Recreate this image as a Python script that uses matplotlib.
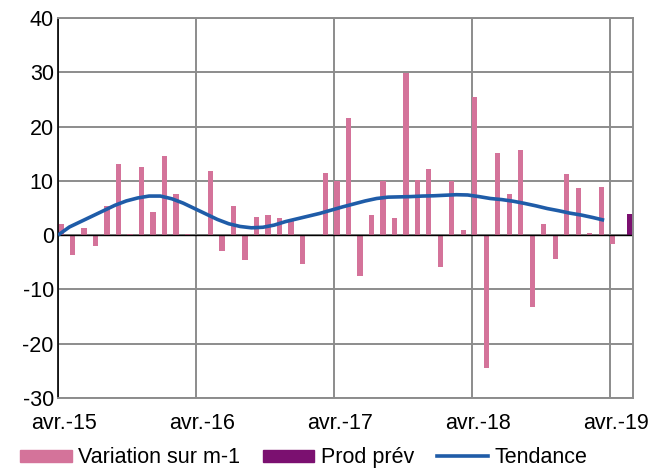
import matplotlib
matplotlib.use('Agg')
import matplotlib.pyplot as plt
from matplotlib.patches import Patch
from matplotlib.lines import Line2D
import numpy as np

plt.rcParams['font.family'] = ['Liberation Sans', 'DejaVu Sans']
plt.rcParams['axes.unicode_minus'] = False

# monthly categories, avr.-15 .. mai-19
months = ['avr.-15', 'mai-15', 'juin-15', 'juil.-15', 'août-15', 'sept.-15', 'oct.-15', 'nov.-15', 'déc.-15',
          'janv.-16', 'févr.-16', 'mars-16',
          'avr.-16', 'mai-16', 'juin-16', 'juil.-16', 'août-16', 'sept.-16', 'oct.-16', 'nov.-16', 'déc.-16',
          'janv.-17', 'févr.-17', 'mars-17',
          'avr.-17', 'mai-17', 'juin-17', 'juil.-17', 'août-17', 'sept.-17', 'oct.-17', 'nov.-17', 'déc.-17',
          'janv.-18', 'févr.-18', 'mars-18',
          'avr.-18', 'mai-18', 'juin-18', 'juil.-18', 'août-18', 'sept.-18', 'oct.-18', 'nov.-18', 'déc.-18',
          'janv.-19', 'févr.-19', 'mars-19',
          'avr.-19', 'mai-19']

variation = [2.0, -3.6, 1.4, -2.0, 5.3, 13.1, 0.2, 12.5, 4.2, 14.5, 7.6, 0.2,
             0.0, 11.9, -2.9, 5.3, -4.6, 3.4, 3.8, 3.1, 2.8, -5.4, 0.0, 11.5,
             10.0, 21.5, -7.5, 3.8, 9.9, 3.1, 29.9, 10.1, 12.1, -5.8, 9.9, 0.9,
             25.4, -24.5, 15.2, 7.5, 15.6, -13.2, 2.1, -4.4, 11.2, 8.7, 0.4, 8.9,
             -1.6, np.nan]

prod_prev = [np.nan] * 49 + [3.9]

tendance = [0.0, 1.5, 2.5, 3.5, 4.5, 5.5, 6.3, 6.85, 7.2, 7.2, 6.7, 5.9,
            4.9, 3.9, 2.9, 2.1, 1.6, 1.35, 1.45, 1.85, 2.5, 3.0, 3.5, 4.0,
            4.6, 5.2, 5.75, 6.3, 6.75, 7.0, 7.05, 7.1, 7.2, 7.25, 7.35, 7.45,
            7.4, 7.1, 6.75, 6.55, 6.25, 5.85, 5.4, 4.9, 4.5, 4.05, 3.7, 3.25,
            2.75, np.nan]

pink = '#d4739a'
purple = '#7b1070'
blue = '#1f5ca8'
grid_col = '#8c8c8c'

fig = plt.figure(figsize=(6.49, 4.68), dpi=100)
ax = fig.add_axes([0.0894, 0.1496, 0.8856, 0.8119])

x = np.arange(len(months))
ax.bar(x + 0.02, variation, width=0.47, align='edge', color=pink, zorder=2)
ax.bar(x + 0.52, prod_prev, width=0.47, align='edge', color=purple, zorder=2)
# trend points spread from the axis start to the centre of the last month
line_x = np.linspace(0, len(months) - 1.5, len(months))
ax.plot(line_x, tendance, color=blue, lw=2.6, zorder=3, solid_capstyle='butt')

ax.set_xlim(0, len(months))
ax.set_ylim(-30, 40)
ax.set_yticks(range(-30, 41, 10))
ax.axhline(0, color='black', lw=1, zorder=2.5)

year_pos = [i for i, m in enumerate(months) if m.startswith('avr.')]
ax.set_xticks(year_pos)
ax.set_xticklabels([])
ax.set_xticks([p + 0.5 for p in year_pos], minor=True)
ax.set_xticklabels([months[p] for p in year_pos], minor=True)
ax.tick_params(axis='x', which='both', length=0, labelsize=15.5, pad=11)
ax.tick_params(axis='y', length=0, labelsize=15.5, pad=3)

ax.grid(True, which='major', color=grid_col, lw=1.4, zorder=0)
for s in ['top', 'right', 'bottom']:
    ax.spines[s].set_color(grid_col)
    ax.spines[s].set_linewidth(1.4)
ax.spines['left'].set_color('black')
ax.spines['left'].set_linewidth(1.2)

handles = [Patch(color=pink), Patch(color=purple), Line2D([], [], color=blue, lw=2.6)]
fig.legend(handles, ['Variation sur m-1', 'Prod prév', 'Tendance'], loc='lower center',
           bbox_to_anchor=(0.468, -0.042), ncol=3, frameon=False, fontsize=15.5,
           handlelength=2.4, handleheight=0.5, handletextpad=0.3, columnspacing=1.05)

fig.savefig('out.png', dpi=100)
